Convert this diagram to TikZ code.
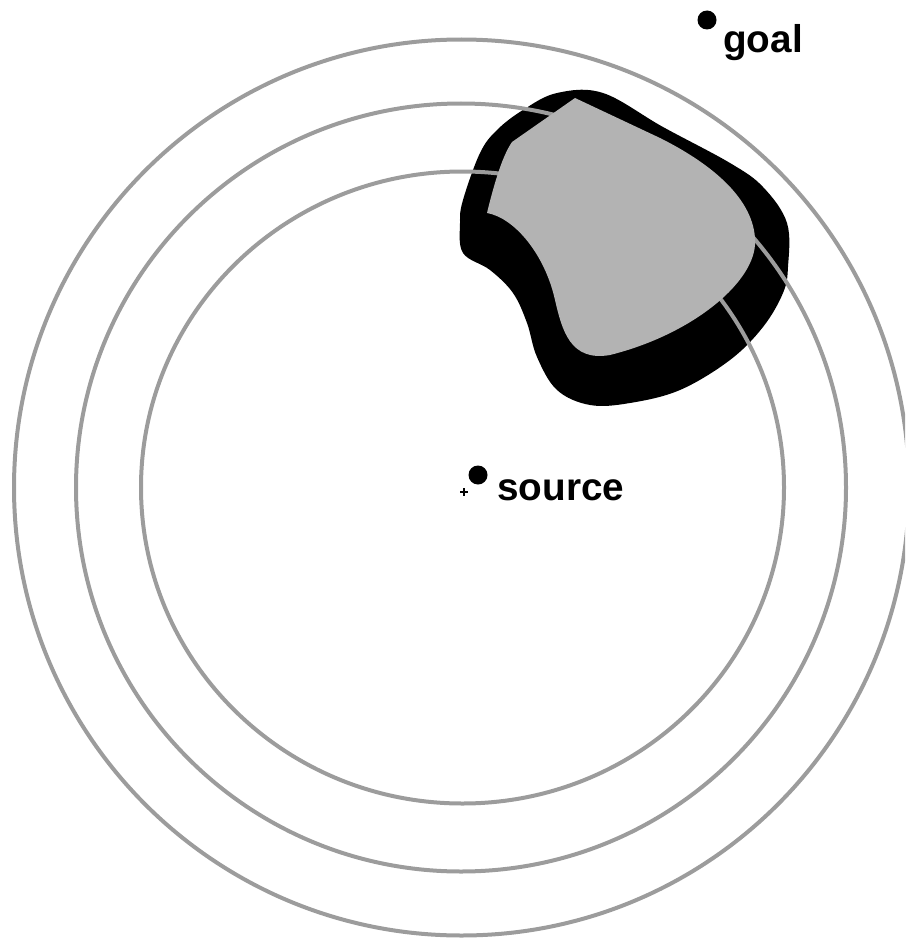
\documentclass[tikz,border=0pt]{standalone}
\usepackage{fontspec}
\setmainfont{Liberation Sans}
\definecolor{ringgray}{HTML}{9C9C9C}
\definecolor{obsgray}{HTML}{B3B3B3}
\begin{document}
\begin{tikzpicture}[x=1pt,y=-1pt,
  ring/.style={draw=ringgray,line width=4pt},
  dot/.style={circle,fill=black,inner sep=0pt,minimum size=19pt},
  lbl/.style={inner sep=0pt,anchor=base west,font=\fontsize{38.7}{40}\selectfont\bfseries}]
\useasboundingbox (0,0) rectangle (905,939);
\clip (0,0) rectangle (905,939);
% dilated obstacle (black)
\fill[black] plot[smooth cycle,tension=0.6] coordinates {
 (557,93) (603,93) (663,127) (730,163) (763,187) (787,223) (788,267)
 (783,293) (763,327) (730,360) (680,390) (630,403) (590,405) (557,390)
 (537,357) (527,323) (513,293) (490,270) (463,253) (460,223) (463,200)
 (480,153) (497,130) (523,110)};
% rings
\draw[ring] (461.5,487.5) ellipse [x radius=447.5, y radius=448];
\draw[ring] (461,487.5) ellipse [x radius=385, y radius=384];
\draw[ring] (462.5,487.5) ellipse [x radius=321.5, y radius=316];
% obstacle (grey)
\fill[obsgray] (575,98) -- (660,138)
  .. controls (720,168) and (757,205) .. (755,245)
  .. controls (752,285) and (690,335) .. (610,355)
  .. controls (570,362) and (562,330) .. (555,300)
  .. controls (545,255) and (515,218) .. (487,213)
  .. controls (495,180) and (503,155) .. (512,142)
  -- cycle;
% source
\node[dot] (srcdot) at (478,475) {};
\draw[line width=1.5pt] (460,492) -- (468,492) (464,488) -- (464,496);
\node[lbl] (src) at (497,500) {source};
% goal
\node[dot] (goaldot) at (707,20) {};
\node[lbl] (goal) at (723,53) {goal};
\end{tikzpicture}
\end{document}
